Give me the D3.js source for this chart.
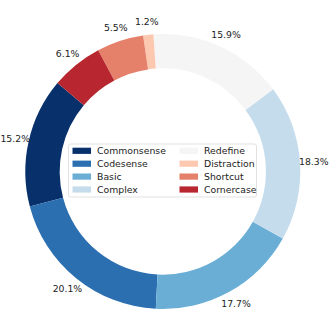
<!DOCTYPE html>
<html>
<head>
<meta charset="utf-8">
<script src="https://cdn.jsdelivr.net/npm/d3@7"></script>
<style>
  body { margin: 0; background: #fff; }
  text { font-family: "DejaVu Sans", sans-serif; }
</style>
</head>
<body>
<div id="chart"></div>
<script>
// categories in legend order (pie runs counterclockwise from 140 deg)
const categories = ["Commonsense", "Codesense", "Basic", "Complex",
                    "Redefine", "Distraction", "Shortcut", "Cornercase"];
const shares = [15.2, 20.1, 17.7, 18.3, 15.9, 1.2, 5.5, 6.1];
const colors = ["#08306b", "#2b6fb0", "#6aaed6", "#c5dcec",
                "#f5f5f5", "#fcc9b0", "#e5806a", "#b8272f"];

const width = 329, height = 322;
const cx = 162.8, cy = 171.5;
const rOuter = 137.5, rInner = rOuter * 0.75;
const fontSize = 9.3;

const svg = d3.select("#chart").append("svg")
    .attr("width", width)
    .attr("height", height);

const g = svg.append("g").attr("transform", `translate(${cx},${cy})`);

// matplotlib startangle=140, counterclockwise -> d3 angles go the other way
const start = (90 - 140) * Math.PI / 180;
const pie = d3.pie().sort(null)
    .startAngle(start)
    .endAngle(start - 2 * Math.PI);

const arcs = pie(shares);
const arc = d3.arc().innerRadius(rInner).outerRadius(rOuter);
const labelArc = d3.arc().innerRadius(rOuter * 1.1).outerRadius(rOuter * 1.1);

g.selectAll("path.slice")
    .data(arcs)
    .join("path")
    .attr("class", "slice")
    .attr("d", arc)
    .attr("fill", (d, i) => colors[i]);

g.selectAll("text.pct")
    .data(arcs)
    .join("text")
    .attr("class", "pct")
    .attr("transform", d => `translate(${labelArc.centroid(d)})`)
    .attr("text-anchor", "middle")
    .attr("dominant-baseline", "central")
    .attr("font-size", fontSize)
    .attr("fill", "#222")
    .text(d => d.data.toFixed(1) + "%");

// legend, two columns filled column-wise
const legend = svg.append("g").attr("transform", "translate(68.5,144)");
legend.append("rect")
    .attr("width", 188)
    .attr("height", 53)
    .attr("rx", 2)
    .attr("fill", "#fff")
    .attr("fill-opacity", 0.8)
    .attr("stroke", "#d9d9d9")
    .attr("stroke-width", 0.8);

const rowH = 12.9, colW = 107;
const items = legend.selectAll("g.item")
    .data(categories)
    .join("g")
    .attr("class", "item")
    .attr("transform", (d, i) =>
        `translate(${4 + Math.floor(i / 4) * colW},${6.7 + (i % 4) * rowH})`);

items.append("rect")
    .attr("y", -3)
    .attr("width", 18.5)
    .attr("height", 6.2)
    .attr("fill", (d, i) => colors[categories.indexOf(d)]);

items.append("text")
    .attr("x", 24.5)
    .attr("dominant-baseline", "central")
    .attr("font-size", fontSize)
    .attr("fill", "#222")
    .text(d => d);
</script>
</body>
</html>
